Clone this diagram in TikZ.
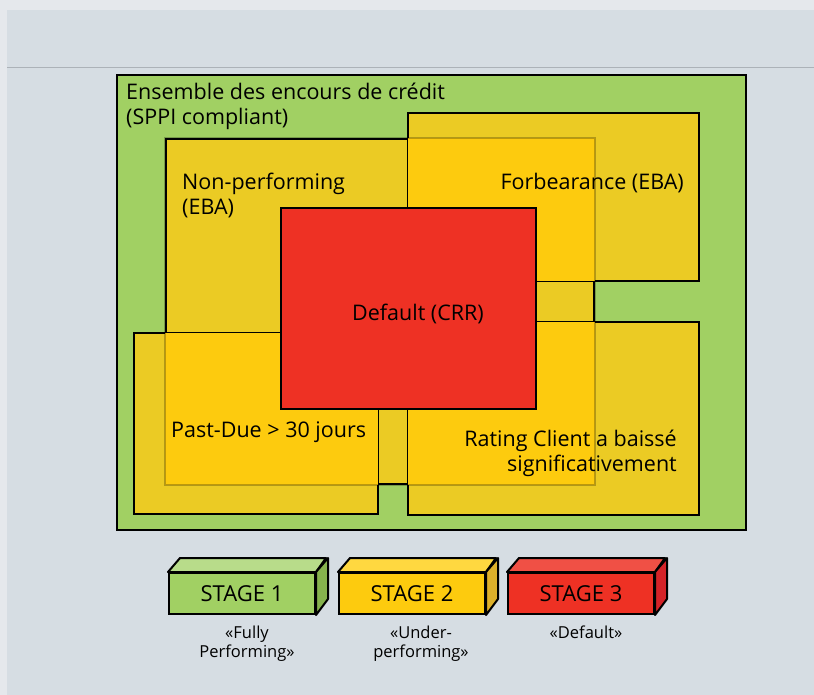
\documentclass[tikz,border=0pt]{standalone}
\usepackage{fontspec}
\setmainfont{Open Sans}
\usetikzlibrary{positioning}

\definecolor{pagebg}{RGB}{229,232,236}
\definecolor{panelbg}{RGB}{214,221,227}
\definecolor{ruleline}{RGB}{172,178,184}
\definecolor{setfill}{RGB}{161,208,99}
\definecolor{zonefill}{RGB}{235,203,36}
\definecolor{overfill}{RGB}{253,203,14}
\definecolor{dflfill}{RGB}{238,49,36}
\definecolor{stOneF}{RGB}{161,208,99}  \definecolor{stOneT}{RGB}{184,220,138} \definecolor{stOneS}{RGB}{134,178,77}
\definecolor{stTwoF}{RGB}{253,203,14}  \definecolor{stTwoT}{RGB}{255,216,64}  \definecolor{stTwoS}{RGB}{221,176,42}
\definecolor{stThrF}{RGB}{238,49,36}   \definecolor{stThrT}{RGB}{240,80,69}   \definecolor{stThrS}{RGB}{212,35,40}

\begin{document}
\begin{tikzpicture}[
    x=1pt, y=-1pt, font=\fontsize{21.5}{25}\selectfont,
    zone/.style={draw=black,line width=2pt,fill=zonefill,anchor=north west,inner sep=0pt},
    lbl/.style={inner sep=0pt,align=left},
    stagebox/.style={draw=black,line width=2pt,anchor=north west,minimum width=146pt,minimum height=41pt,inner sep=0pt,font=\fontsize{22}{24}\selectfont},
    face/.style={draw=black,line width=2pt,line join=round},
    stagenote/.style={inner sep=0pt,align=center,font=\fontsize{16.5}{18.5}\selectfont},
]
\useasboundingbox (0,0) rectangle (814,695);

% ================= background panel =================
\fill[pagebg] (0,0) rectangle (814,695);
\fill[panelbg] (7,10) rectangle (814,695);
\draw[ruleline,line width=1pt] (7,68) -- (814,68);

% ================= the nested zones =================
\node[zone,fill=setfill,minimum width=629pt,minimum height=455pt] (set) at (116,74) {};
\node[zone,minimum width=428pt,minimum height=345pt] (np) at (165,138) {};
\node[zone,minimum width=291pt,minimum height=168pt] (fb) at (407,112) {};
\node[zone,minimum width=244pt,minimum height=181pt] (pd) at (133,332) {};
\node[zone,minimum width=291pt,minimum height=193pt] (rc) at (407,321) {};

% overlaps with the non-performing zone
\fill[overfill] ([shift={(1,-1)}]fb.south west) rectangle (np.north east);
\fill[overfill] ([yshift=-1pt]np.west |- pd.north) rectangle ([xshift=-1pt]pd.east |- np.south);
\fill[overfill] ([shift={(1,1)}]rc.north west) rectangle (np.south east);
\draw[black,opacity=0.25,line width=2pt] (np.north west) rectangle (np.south east);

\node[zone,fill=dflfill,minimum width=255pt,minimum height=201pt] (dfl) at (280,207) {};

% ================= zone labels =================
\node[lbl,anchor=base west] (setlbl) at (126,125) {Ensemble des encours de crédit\\(SPPI compliant)};
\node[lbl,anchor=base west] (nplbl) at (182,215) {Non-performing\\(EBA)};
\node[lbl,anchor=base east] (fblbl) at (684,190) {Forbearance (EBA)};
\node[lbl,anchor=base] (dfllbl) at (418,320) {Default (CRR)};
\node[lbl,anchor=base west] (pdlbl) at (171,437) {Past-Due > 30 jours};
\node[lbl,anchor=base east,align=right] (rclbl) at (677,471) {Rating Client a baissé\\significativement};

% ================= the three stages =================
\foreach \i/\x/\cf/\ct/\cs in {1/168/stOneF/stOneT/stOneS,2/338/stTwoF/stTwoT/stTwoS,3/507/stThrF/stThrT/stThrS}{
  \node[stagebox,fill=\cf] (stage\i) at (\x,572) {STAGE \i};
  \filldraw[face,fill=\ct] (stage\i.north west) -- ++(12,-14) -- ++(146,0) -- (stage\i.north east) -- cycle;
  \filldraw[face,fill=\cs] (stage\i.north east) -- ++(12,-14) -- ++(0,41) -- (stage\i.south east) -- cycle;
}
\node[stagenote,below=11pt of stage1,xshift=5pt] (note1) {«Fully\\Performing»};
\node[stagenote,below=11pt of stage2,xshift=9pt] (note2) {«Under-\\performing»};
\node[stagenote,below=11pt of stage3,xshift=5pt] (note3) {«Default»};

\end{tikzpicture}
\end{document}
